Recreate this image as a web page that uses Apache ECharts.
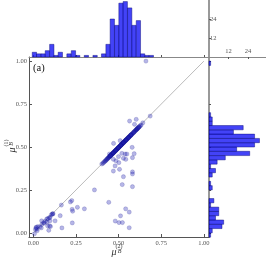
<!DOCTYPE html>
<html><head><meta charset="utf-8">
<script src="https://cdn.jsdelivr.net/npm/echarts@6/dist/echarts.min.js"></script>
<style>html,body{margin:0;padding:0;background:#fff}#c{width:266px;height:261px}</style>
</head><body><div id="c"></div>
<script>
// ---- data ----
const mainTicks = [0, 0.25, 0.5, 0.75, 1.0];
const histTicks = [12, 24];

// top histogram of mu_B^(2): bin left edges, common width, counts
const topBinEdges = [-0.007,0.018,0.044,0.069,0.095,0.120,0.145,0.171,0.196,0.222,0.247,0.272,0.298,0.323,0.349,0.374,0.399,0.425,0.450,0.476,0.501,0.526,0.552,0.577,0.603,0.628,0.653,0.679];
const topBinWidth = 0.0254;
const topCounts = [3,2,2,4,8,1,3,0,2,4,1,0,1,0,1,0,2,8,24,20,34,35,31,20,23,2,1,1];

// right histogram of mu_B^(1)
const rightBinEdges = [-0.025,0,0.025,0.05,0.075,0.1,0.125,0.15,0.175,0.2,0.225,0.25,0.275,0.3,0.325,0.35,0.375,0.4,0.425,0.45,0.475,0.5,0.525,0.55,0.575,0.6,0.625,0.65,0.675,0.7,0.725,0.75,0.775,0.8,0.825,0.85,0.875,0.9,0.925,0.95,0.975];
const rightBinWidth = 0.025;
const rightCounts = [1,2,8,9,4,6,6,1,3,0,0,2,1,0,2,4,1,5,10,25,17,28,31,28,15,21,2,2,1,0,0,0,0,0,0,0,0,0,0,0,1];

// scatter points: dense band along the diagonal
const diagPoints = [
[0.401,0.401],[0.408,0.405],[0.412,0.410],[0.418,0.415],[0.421,0.419],[0.425,0.421],[0.428,0.426],[0.431,0.428],[0.434,0.432],[0.437,0.434],
[0.440,0.438],[0.442,0.439],[0.445,0.443],[0.447,0.444],[0.449,0.447],[0.451,0.448],[0.453,0.451],[0.455,0.452],[0.457,0.455],[0.459,0.456],
[0.461,0.459],[0.462,0.459],[0.464,0.462],[0.466,0.463],[0.467,0.465],[0.469,0.466],[0.471,0.469],[0.472,0.469],[0.474,0.472],[0.476,0.473],
[0.477,0.475],[0.479,0.476],[0.481,0.479],[0.482,0.479],[0.484,0.482],[0.486,0.483],[0.487,0.485],[0.489,0.486],[0.491,0.489],[0.492,0.489],
[0.494,0.492],[0.496,0.493],[0.497,0.495],[0.499,0.496],[0.501,0.499],[0.502,0.499],[0.504,0.502],[0.506,0.503],[0.507,0.505],[0.509,0.506],
[0.511,0.509],[0.512,0.509],[0.514,0.512],[0.516,0.513],[0.517,0.515],[0.519,0.516],[0.521,0.519],[0.522,0.519],[0.524,0.522],[0.526,0.523],
[0.527,0.525],[0.529,0.526],[0.531,0.529],[0.532,0.529],[0.534,0.532],[0.536,0.533],[0.537,0.535],[0.539,0.536],[0.541,0.539],[0.542,0.539],
[0.544,0.542],[0.546,0.543],[0.547,0.545],[0.549,0.546],[0.551,0.549],[0.553,0.550],[0.555,0.553],[0.557,0.554],[0.559,0.557],[0.561,0.558],
[0.563,0.561],[0.565,0.562],[0.567,0.565],[0.569,0.566],[0.571,0.569],[0.573,0.570],[0.575,0.573],[0.577,0.574],[0.580,0.577],[0.583,0.580],
[0.586,0.583],[0.589,0.586],[0.592,0.589],[0.595,0.592],[0.598,0.595],[0.601,0.598],[0.603,0.600],[0.605,0.602],[0.607,0.604],[0.609,0.606],
[0.611,0.608],[0.613,0.610],[0.615,0.612],[0.618,0.615],[0.620,0.617],[0.622,0.619],[0.627,0.624],[0.632,0.628],
[0.452,0.450],[0.468,0.465],[0.483,0.480],[0.498,0.495],[0.513,0.510],[0.528,0.525],[0.543,0.540],[0.558,0.555],[0.572,0.569],[0.588,0.585]
];
// scatter points off the band
const offPoints = [
[0.660,1.000],[0.685,0.680],[0.642,0.641],[0.603,0.661],[0.564,0.651],[0.593,0.632],
[0.470,0.521],[0.509,0.537],[0.579,0.498],[0.591,0.461],[0.446,0.459],[0.499,0.444],[0.538,0.459],[0.528,0.434],
[0.581,0.438],[0.469,0.428],[0.501,0.409],[0.542,0.428],[0.479,0.390],[0.505,0.370],[0.469,0.360],[0.581,0.355],
[0.581,0.343],[0.528,0.327],[0.519,0.463],[0.548,0.459],[0.484,0.420],[0.521,0.281],[0.581,0.269],
[0.358,0.250],[0.442,0.178],[0.541,0.140],[0.562,0.121],[0.511,0.099],[0.480,0.069],[0.502,0.060],[0.522,0.060],[0.562,0.030],
[0.299,0.140],[0.258,0.149],[0.227,0.137],[0.230,0.126],[0.225,0.188],[0.217,0.180],[0.164,0.162],[0.157,0.100],
[0.127,0.070],[0.228,0.058],[0.167,0.029],[0.113,0.110],[0.097,0.090],[0.093,0.088],[0.078,0.081],[0.097,0.070],
[0.079,0.062],[0.062,0.056],[0.050,0.050],[0.048,0.070],[0.083,0.041],[0.090,0.015],[0.100,0.037],[0.026,0.037],
[0.017,0.033],[0.020,0.022],[0.022,0.013],[0.046,0.029],[0.095,0.041],[0.060,0.060],[0.110,0.110],[0.115,0.112],
[0.105,0.105],[0.038,0.035],[0.070,0.068],[0.085,0.083],[0.012,0.020],[0.006,-0.005],[0.015,0.030]
];
const diagLine = [[0,0],[1,1]];

// ---- chart ----
const SERIF = 'Liberation Serif';
const labelStyle = {fontFamily: SERIF, fontSize: 6.5, color: '#555'};
const barFill = 'rgba(20,20,245,0.8)';
const barEdge = 'rgba(0,0,110,0.85)';
const ptColor = 'rgba(40,40,185,0.42)';

const topData = [];
topCounts.forEach((c, i) => { if (c > 0) topData.push([topBinEdges[i], topBinEdges[i] + topBinWidth, c]); });
const rightData = [];
rightCounts.forEach((c, i) => { if (c > 0) rightData.push([c, rightBinEdges[i], rightBinEdges[i] + rightBinWidth]); });

const XMIN = -0.026, XMAX = 1.03, YMIN = -0.024, YMAX = 1.024;

function line(color, width) { return {show: true, onZero: false, lineStyle: {color: color, width: width}}; }

const chart = echarts.init(document.getElementById('c'), null, {renderer: 'canvas'});
chart.setOption({
  animation: false,
  grid: [
    {left: 29, top: 57, width: 180, height: 180},
    {left: 29, top: 0, width: 180, height: 57},
    {left: 209, top: 57, width: 57, height: 180}
  ],
  xAxis: [
    {gridIndex: 0, type: 'value', min: XMIN, max: XMAX, splitLine: {show: false},
     axisLine: line('#555', 1),
     axisTick: {show: true, inside: true, length: 3, customValues: mainTicks, lineStyle: {color: '#555'}},
     axisLabel: Object.assign({customValues: mainTicks, margin: 3, formatter: v => v.toFixed(2)}, labelStyle)},
    {gridIndex: 1, type: 'value', min: XMIN, max: XMAX, splitLine: {show: false},
     axisLine: line('#888', 1),
     axisTick: {show: true, inside: true, length: 2, customValues: mainTicks, lineStyle: {color: '#555'}},
     axisLabel: {show: false}},
    {gridIndex: 2, type: 'value', min: 0, max: 35, position: 'top', splitLine: {show: false},
     axisLine: line('#888', 1),
     axisTick: {show: true, inside: true, length: 2, customValues: histTicks, lineStyle: {color: '#555'}},
     axisLabel: Object.assign({customValues: histTicks, margin: 2}, labelStyle)}
  ],
  yAxis: [
    {gridIndex: 0, type: 'value', min: YMIN, max: YMAX, splitLine: {show: false},
     axisLine: line('#555', 1),
     axisTick: {show: true, inside: true, length: 3, customValues: mainTicks, lineStyle: {color: '#555'}},
     axisLabel: Object.assign({customValues: mainTicks, margin: 2, formatter: v => v.toFixed(2)}, labelStyle)},
    {gridIndex: 1, type: 'value', min: 0, max: 36, position: 'right', splitLine: {show: false},
     axisLine: line('#999', 2),
     axisTick: {show: true, inside: false, length: 2, customValues: histTicks, lineStyle: {color: '#555'}},
     axisLabel: Object.assign({customValues: histTicks, margin: 1}, labelStyle)},
    {gridIndex: 2, type: 'value', min: YMIN, max: YMAX, position: 'left', splitLine: {show: false},
     axisLine: line('#999', 2),
     axisTick: {show: true, inside: true, length: 2, customValues: mainTicks, lineStyle: {color: '#555'}},
     axisLabel: {show: false}}
  ],
  series: [
    {type: 'line', xAxisIndex: 0, yAxisIndex: 0, data: diagLine, symbol: 'none',
     lineStyle: {color: '#aaa', width: 0.8}, z: 1},
    {type: 'scatter', xAxisIndex: 0, yAxisIndex: 0, data: offPoints.concat(diagPoints), symbolSize: 4.2,
     itemStyle: {color: ptColor, borderColor: 'rgba(0,0,120,0.4)', borderWidth: 0.5}, z: 2},
    {type: 'custom', xAxisIndex: 1, yAxisIndex: 1, data: topData, encode: {x: [0, 1], y: 2},
     renderItem: (params, api) => {
       const p0 = api.coord([api.value(0), api.value(2)]);
       const p1 = api.coord([api.value(1), 0]);
       return {type: 'rect', shape: {x: p0[0], y: p0[1], width: p1[0] - p0[0], height: p1[1] - p0[1]},
               style: {fill: barFill, stroke: barEdge, lineWidth: 0.5}};
     }},
    {type: 'custom', xAxisIndex: 2, yAxisIndex: 2, data: rightData, encode: {x: 0, y: [1, 2]},
     renderItem: (params, api) => {
       const p0 = api.coord([0, api.value(2)]);
       const p1 = api.coord([api.value(0), api.value(1)]);
       return {type: 'rect', shape: {x: p0[0], y: p0[1], width: p1[0] - p0[0], height: p1[1] - p0[1]},
               style: {fill: barFill, stroke: barEdge, lineWidth: 0.5}};
     }}
  ],
  graphic: [
    {type: 'text', left: 33, top: 63, style: {text: '(a)', font: '10.5px "Liberation Serif"', fill: '#111'}},
    {type: 'group', x: 114, y: 252, children: [
      {type: 'text', x: 0, y: 0, style: {text: 'μ', font: 'italic 10px "Liberation Serif"', fill: '#333', align: 'center', verticalAlign: 'middle'}},
      {type: 'text', x: 5.5, y: -0.5, style: {text: 'B', font: 'italic 6px "Liberation Serif"', fill: '#333', align: 'center', verticalAlign: 'middle'}},
      {type: 'text', x: 5, y: -6, style: {text: '(2)', font: '6px "Liberation Serif"', fill: '#333', align: 'center', verticalAlign: 'middle'}}
    ]},
    {type: 'group', x: 12, y: 150, rotation: Math.PI / 2, children: [
      {type: 'text', x: 0, y: 0, style: {text: 'μ', font: 'italic 10px "Liberation Serif"', fill: '#333', align: 'center', verticalAlign: 'middle'}},
      {type: 'text', x: 6, y: -0.5, style: {text: 'B', font: 'italic 6px "Liberation Serif"', fill: '#333', align: 'center', verticalAlign: 'middle'}},
      {type: 'text', x: 7, y: -6, style: {text: '(1)', font: '6px "Liberation Serif"', fill: '#333', align: 'center', verticalAlign: 'middle'}}
    ]}
  ]
});
</script></body></html>
